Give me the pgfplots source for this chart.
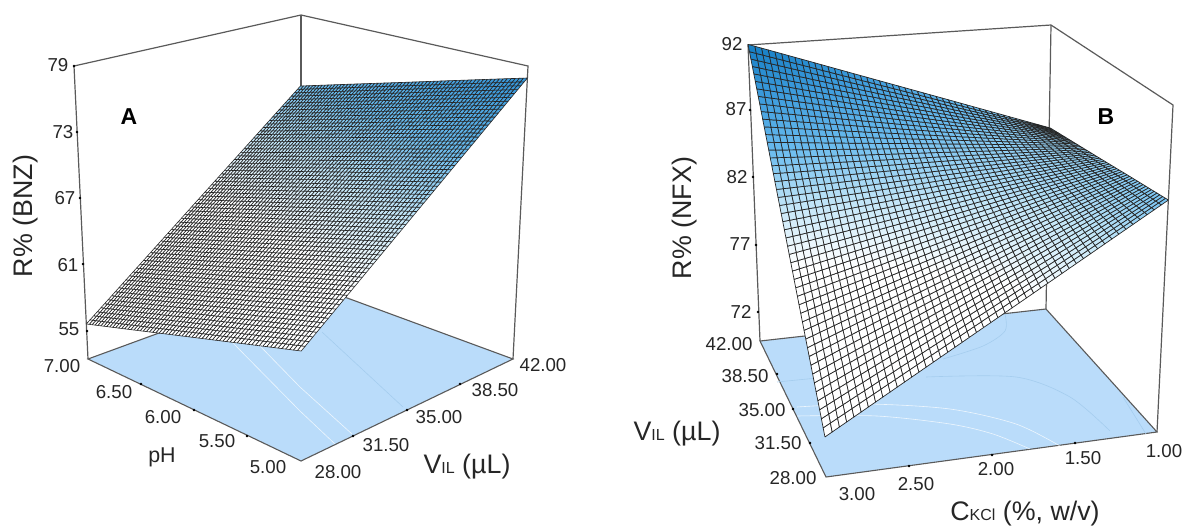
\documentclass[border=0pt]{standalone}
\usepackage{fontspec}
\setmainfont{Liberation Sans}
\usepackage{pgfplots}
\pgfplotsset{compat=1.18}
\usepgfplotslibrary{patchplots}
\definecolor{floorc}{RGB}{186,220,250}
\definecolor{framec}{RGB}{90,90,90}
\tikzset{tk/.style={font=\fontsize{18.7}{20}\selectfont, inner sep=0pt, text=black!85}}
\begin{document}
\begin{tikzpicture}
\path[use as bounding box] (0,0) rectangle (1183pt,528pt);
\begin{axis}[
  scale only axis, width=1183pt, height=528pt,
  xmin=0, xmax=1183, ymin=0, ymax=528, y dir=reverse,
  hide axis, clip=false,
  point meta min=0, point meta max=1,
  colormap={rs}{rgb255(0cm)=(255,255,255); rgb255(1cm)=(195,230,248); rgb255(2cm)=(105,187,238); rgb255(3cm)=(60,155,220); rgb255(4cm)=(20,125,195)},
  declare function={
    Da(\V,\P,\R)=1+.1538*((\V-28)/14+(\P-5)/2)-.0736*(\R-52.45)/26.55;
    xa(\V,\P,\R)=(301+290.9*(\V-28)/14-199.5*(\P-5)/2-21.55*(\R-52.45)/26.55)/Da(\V,\P,\R);
    ya(\V,\P,\R)=(461-46.8*(\V-28)/14-46.8*(\P-5)/2-342.9*(\R-52.45)/26.55)/Da(\V,\P,\R);
    Db(\C,\V,\R)=1+.05882*(3-\C)/2+.18017*(\V-28)/14-.0732*(\R-69.69)/22.31;
    xb(\C,\V,\R)=(826+399.05*(3-\C)/2+70.93*(\V-28)/14-68.9*(\R-69.69)/22.31)/Db(\C,\V,\R);
    yb(\C,\V,\R)=(477-19.59*(3-\C)/2-74.56*(\V-28)/14-353.3*(\R-69.69)/22.31)/Db(\C,\V,\R);
  },
]
% ---------- frame A
\addplot[framec, line width=1.2pt] coordinates {(88,359)(74,66)(301,15)(528,66)(513,359)};
\addplot[framec, line width=1.2pt] coordinates {(301,281)(301,15)};
\addplot[fill=floorc, draw=none] coordinates {(88,359)(301,461)(513,359)(301,281)};
\addplot[framec, line width=1.1pt] coordinates {(301,281)(88,359)(301,461)(513,359)(301,281)};
\addplot[white, line width=.6pt, opacity=.75] coordinates {(232,342)(300,411)(335,444)};
\addplot[white, line width=.6pt, opacity=.75] coordinates {(260,346)(300,387)(352,434)};
\addplot[color={rgb,255:red,165;green,205;blue,238}, line width=.6pt] coordinates {(322,332)(403,407)};
\addplot[only marks, mark=*, mark size=1pt, black] coordinates {(74,66)(77,132)(80,198)(83,264)(87,331)(141,384)(194,410)(247,436)(353,436)(407,410)(460,384)};
% ---------- surface A
\addplot[patch, patch type=biquadratic, patch refines=5, shader=faceted, faceted color=black!85, line width=.6pt,
  table/row sep=\\,
  patch table={
0 2 12 10 1 7 11 5 6\\
2 4 14 12 3 9 13 7 8\\
10 12 22 20 11 17 21 15 16\\
12 14 24 22 13 19 23 17 18\\
},
  point meta={(\thisrow{R}-65)/16}]
 table[x expr={xa(\thisrow{V},\thisrow{P},\thisrow{R})}, y expr={ya(\thisrow{V},\thisrow{P},\thisrow{R})}] {
V P R\\
28 5 61.66\\ 31.5 5 65.74\\ 35 5 69.82\\ 38.5 5 73.90\\ 42 5 77.98\\
28 5.5 60.20\\ 31.5 5.5 64.30\\ 35 5.5 68.41\\ 38.5 5.5 72.52\\ 42 5.5 76.63\\
28 6 58.74\\ 31.5 6 62.87\\ 35 6 67.00\\ 38.5 6 71.14\\ 42 6 75.27\\
28 6.5 57.27\\ 31.5 6.5 61.43\\ 35 6.5 65.59\\ 38.5 6.5 69.75\\ 42 6.5 73.92\\
28 7 55.81\\ 31.5 7 60.00\\ 35 7 64.19\\ 38.5 7 68.37\\ 42 7 72.56\\
};
% ---------- frame B
\addplot[framec, line width=1.2pt] coordinates {(760,341)(748,45)(1051,25)(1173,105)(1157,432)};
\addplot[framec, line width=1.2pt] coordinates {(1046,309)(1051,25)};
\addplot[fill=floorc, draw=none] coordinates {(760,341)(826,477)(1157,432)(1046,309)};
\addplot[framec, line width=1.1pt] coordinates {(1046,309)(760,341)(826,477)(1157,432)(1046,309)};
\addplot[white, line width=.6pt, opacity=.75, smooth] coordinates {(797,407)(867,404)(950,409)(1016,424)(1060,446)};
\addplot[white, line width=.6pt, opacity=.75, smooth] coordinates {(797,416)(877,416)(950,424)(993,434)(1030,449)};
\addplot[color={rgb,255:red,165;green,205;blue,238}, line width=.6pt, smooth] coordinates {(926,377)(1016,377)(1070,397)(1110,431)};
\addplot[color={rgb,255:red,165;green,205;blue,238}, line width=.6pt, smooth] coordinates {(943,359)(983,346)(1005,331)(1005,314)};
\addplot[color={rgb,255:red,165;green,205;blue,238}, line width=.6pt] coordinates {(1123,397)(1146,434)};
\addplot[color={rgb,255:red,165;green,205;blue,238}, line width=.6pt] coordinates {(777,382)(827,377)};
\addplot[only marks, mark=*, mark size=1pt, black] coordinates {(750,110)(753,177)(756,245)(758,312)(777,374)(793,409)(810,443)(909,466)(992,455)(1075,443)};
% ---------- surface B
\addplot[patch, patch type=biquadratic, patch refines=4, shader=faceted, faceted color=black!85, line width=.7pt,
  table/row sep=\\,
  patch table={
0 2 16 14 1 9 15 7 8\\
2 4 18 16 3 11 17 9 10\\
4 6 20 18 5 13 19 11 12\\
14 16 30 28 15 23 29 21 22\\
16 18 32 30 17 25 31 23 24\\
18 20 34 32 19 27 33 25 26\\
28 30 44 42 29 37 43 35 36\\
30 32 46 44 31 39 45 37 38\\
32 34 48 46 33 41 47 39 40\\
},
  point meta={(\thisrow{R}-80.5)/11.5}]
 table[x expr={xb(\thisrow{C},\thisrow{V},\thisrow{R})}, y expr={yb(\thisrow{C},\thisrow{V},\thisrow{R})}] {
C V R\\
3 28 72.47\\ 2.667 28 74.70\\ 2.333 28 76.94\\ 2 28 79.17\\ 1.667 28 81.40\\ 1.333 28 83.64\\ 1 28 85.87\\
3 30.333 75.73\\ 2.667 30.333 77.37\\ 2.333 30.333 79.02\\ 2 30.333 80.66\\ 1.667 30.333 82.31\\ 1.333 30.333 83.95\\ 1 30.333 85.60\\
3 32.667 78.98\\ 2.667 32.667 80.04\\ 2.333 32.667 81.10\\ 2 32.667 82.15\\ 1.667 32.667 83.21\\ 1.333 32.667 84.27\\ 1 32.667 85.33\\
3 35 82.24\\ 2.667 35 82.71\\ 2.333 35 83.18\\ 2 35 83.65\\ 1.667 35 84.12\\ 1.333 35 84.59\\ 1 35 85.05\\
3 37.333 85.49\\ 2.667 37.333 85.37\\ 2.333 37.333 85.25\\ 2 37.333 85.14\\ 1.667 37.333 85.02\\ 1.333 37.333 84.90\\ 1 37.333 84.78\\
3 39.667 88.75\\ 2.667 39.667 88.04\\ 2.333 39.667 87.33\\ 2 39.667 86.63\\ 1.667 39.667 85.92\\ 1.333 39.667 85.22\\ 1 39.667 84.51\\
3 42 92.00\\ 2.667 42 90.71\\ 2.333 42 89.41\\ 2 42 88.12\\ 1.667 42 86.83\\ 1.333 42 85.53\\ 1 42 84.24\\
};
% ---------- texts A
\node[tk] at (axis cs:58,65) {79};
\node[tk] at (axis cs:63,132) {73};
\node[tk] at (axis cs:65,198) {67};
\node[tk] at (axis cs:68,265) {61};
\node[tk] at (axis cs:69,329) {55};
\node[tk] at (axis cs:62,366) {7.00};
\node[tk] at (axis cs:114,392) {6.50};
\node[tk] at (axis cs:163,417) {6.00};
\node[tk] at (axis cs:217,441) {5.50};
\node[tk] at (axis cs:268,467) {5.00};
\node[tk] at (axis cs:338,472) {28.00};
\node[tk] at (axis cs:386,445) {31.50};
\node[tk] at (axis cs:439,417) {35.00};
\node[tk] at (axis cs:495,390) {38.50};
\node[tk] at (axis cs:543,365) {42.00};
\node[tk, rotate=90, font=\fontsize{26.8}{28}\selectfont] at (axis cs:26,216) {R\% (BNZ)};
\node[tk, font=\fontsize{21.4}{23}\selectfont] at (axis cs:162,457) {pH};
\node[tk, font=\fontsize{26.8}{28}\selectfont] at (axis cs:467,467) {V{\fontsize{16}{16}\selectfont IL} (µL)};
\node[tk, text=black, font=\fontsize{23}{24}\selectfont\bfseries] at (axis cs:129,117) {A};
% ---------- texts B
\node[tk] at (axis cs:732,44) {92};
\node[tk] at (axis cs:736,109) {87};
\node[tk] at (axis cs:737,177) {82};
\node[tk] at (axis cs:740,244) {77};
\node[tk] at (axis cs:741,312) {72};
\node[tk] at (axis cs:729,344) {42.00};
\node[tk] at (axis cs:745,376) {38.50};
\node[tk] at (axis cs:762,410) {35.00};
\node[tk] at (axis cs:778,443) {31.50};
\node[tk] at (axis cs:793,478) {28.00};
\node[tk] at (axis cs:857,494) {3.00};
\node[tk] at (axis cs:916,484) {2.50};
\node[tk] at (axis cs:996,469) {2.00};
\node[tk] at (axis cs:1083,458) {1.50};
\node[tk] at (axis cs:1164,451) {1.00};
\node[tk, rotate=90, font=\fontsize{26.8}{28}\selectfont] at (axis cs:685,218) {R\% (NFX)};
\node[tk, font=\fontsize{26.8}{28}\selectfont] at (axis cs:677,434) {V{\fontsize{16}{16}\selectfont IL} (µL)};
\node[tk, font=\fontsize{26.8}{28}\selectfont] at (axis cs:1025,514) {C{\fontsize{16}{16}\selectfont KCl} (\%, w/v)};
\node[tk, text=black, font=\fontsize{23}{24}\selectfont\bfseries] at (axis cs:1106,117) {B};
\end{axis}
\end{tikzpicture}
\end{document}
